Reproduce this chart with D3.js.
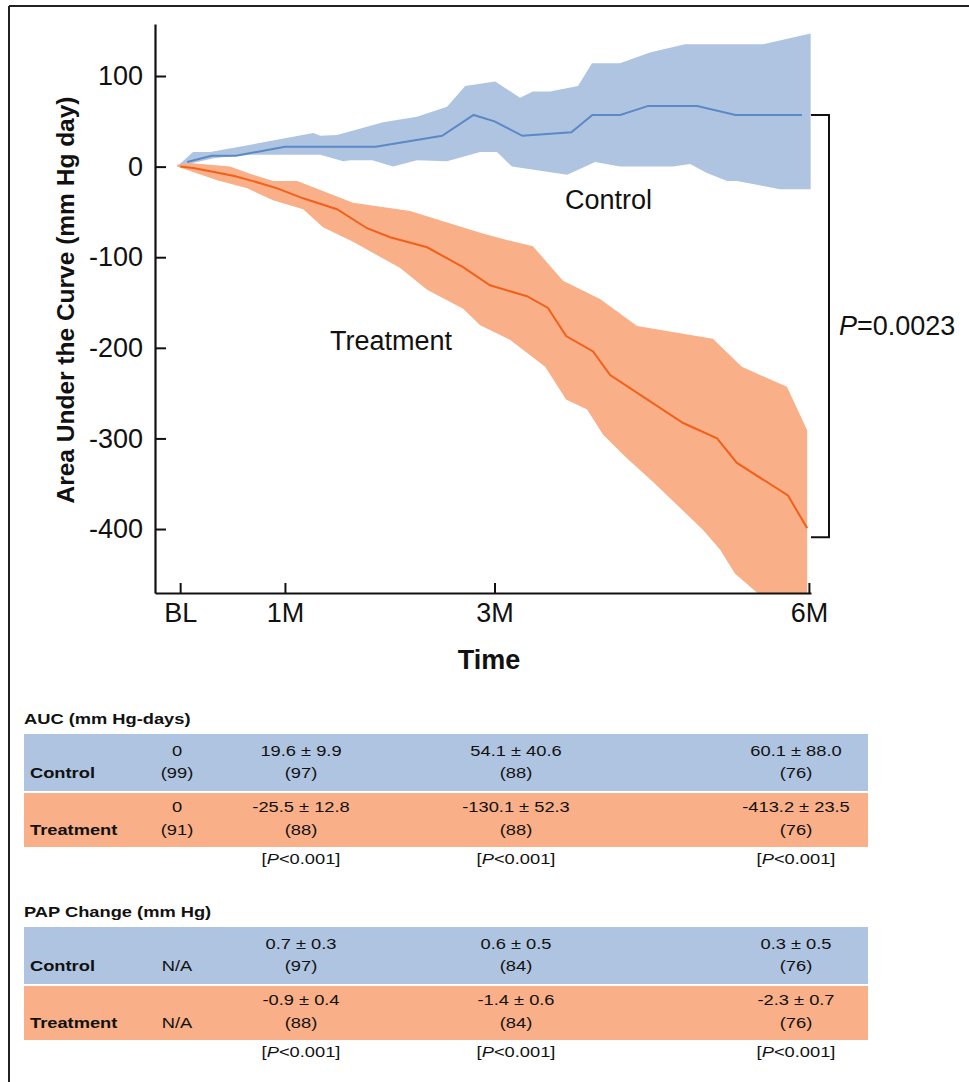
<!DOCTYPE html>
<html>
<head>
<meta charset="utf-8">
<script src="https://cdn.jsdelivr.net/npm/d3@7"></script>
<style>
  body { margin: 0; background: #fff; }
  svg text { font-family: "Liberation Sans", Arial, sans-serif; fill: #111; }
</style>
</head>
<body>
<svg id="chart" width="969" height="1082"></svg>
<script>
// AUC curves (days since baseline, mm Hg day)
let ctrlDays = [2, 9, 16, 30, 56, 75, 84, 90, 98, 112, 118, 126, 134, 148, 159, 178];
let ctrlMean = [5, 12, 12, 22, 22, 34, 57, 50, 34, 38, 57, 57, 67, 67, 57, 57];

let ctrlUpDays = [-0.9, 3.7, 8.6, 38.1, 40.1, 44.9, 58.1, 67.8, 76.4, 81.6, 90.2, 97.3, 101, 105.9, 113.9, 117.9, 125.9, 134.5, 144.5, 166.9, 180.5];
let ctrlUpVals = [0, 16, 16, 37, 34, 35, 49, 55, 66, 89, 94, 76, 83, 83, 89, 114, 114, 126, 135, 135, 147];
let ctrlLoDays = [-0.9, 10, 20, 40.1, 46.7, 48.7, 55, 61, 67.8, 76.4, 85.9, 90.7, 95, 110.8, 118.8, 125.9, 141.1, 146, 150.8, 156.6, 159.4, 165.1, 171.7, 180.5];
let ctrlLoVals = [0, 9.5, 13, 13, 6, 7, 7, 0, 7, 6, 16, 16, 0, -9, 5, 0, 0, 3, -7, -16, -16, -20, -25, -25];

let trtDays = [0, 3.7, 8.6, 15.2, 20.9, 27.8, 35.2, 44.9, 53.5, 60.1, 70.7, 81, 88.7, 99.3, 105.3, 110.5, 118.2, 123.1, 144, 153.7, 159.4, 174, 179.5];
let trtMean = [0, -1.5, -5, -10, -16, -24, -35, -47, -68, -78, -89, -111, -131, -143, -156, -187, -204, -230, -283, -300, -327, -363, -399];

let trtUpDays = [-0.9, 2.9, 14.3, 20, 26.6, 33.5, 49.5, 65.8, 85.9, 92.4, 101, 109.6, 120.2, 130.8, 152.5, 160.8, 173.7, 179.5, 179.5];
let trtUpVals = [2, 4, 0, -8, -16, -16, -40, -49, -73, -80, -88, -126, -146, -176, -190, -221, -243, -291, -540];
let trtLoDays = [-0.9, 10.6, 19.2, 26.6, 35.2, 40.9, 49.5, 63, 70.7, 81, 85.9, 94.4, 104.5, 110.5, 116.5, 121.1, 127.9, 135.4, 149.7, 154.6, 158.8, 165.1, 179.5];
let trtLoVals = [0, -15, -24, -37, -47, -67, -83, -112, -136, -157, -175, -191, -221, -257, -268, -296, -322, -348, -401, -423, -449, -470, -530];

let yTicks = [100, 0, -100, -200, -300, -400];
let xTickDays = [0, 30, 90, 180];
let xTickLabels = ["BL", "1M", "3M", "6M"];
let bracketVals = [57, -409];

// tables
let aucCtrlTop = ["0", "19.6 ± 9.9", "54.1 ± 40.6", "60.1 ± 88.0"];
let aucCtrlN = ["(99)", "(97)", "(88)", "(76)"];
let aucTrtTop = ["0", "-25.5 ± 12.8", "-130.1 ± 52.3", "-413.2 ± 23.5"];
let aucTrtN = ["(91)", "(88)", "(88)", "(76)"];
let aucP = ["", "<0.001", "<0.001", "<0.001"];

let papCtrlTop = ["", "0.7 ± 0.3", "0.6 ± 0.5", "0.3 ± 0.5"];
let papCtrlN = ["N/A", "(97)", "(84)", "(76)"];
let papTrtTop = ["", "-0.9 ± 0.4", "-1.4 ± 0.6", "-2.3 ± 0.7"];
let papTrtN = ["N/A", "(88)", "(84)", "(76)"];
let papP = ["", "<0.001", "<0.001", "<0.001"];

let blueBand = "#afc4e0", blueLine = "#5b88c6";
let orangeBand = "#f9af87", orangeLine = "#f2601a";

let svg = d3.select("#chart");

// frame
svg.append("line").attr("x1", 9).attr("y1", 6).attr("x2", 969).attr("y2", 6)
    .attr("stroke", "#222").attr("stroke-width", 2);
svg.append("line").attr("x1", 9).attr("y1", 6).attr("x2", 9).attr("y2", 1082)
    .attr("stroke", "#222").attr("stroke-width", 2);

let x = d3.scaleLinear().domain([-7.2, 180.6]).range([155, 811]);
let y = d3.scaleLinear().domain([-470.6, 157.4]).range([593, 24]);

svg.append("clipPath").attr("id", "plotclip")
  .append("rect").attr("x", 155).attr("y", 24).attr("width", 656).attr("height", 569);

let line = d3.line().x(d => x(d[0])).y(d => y(d[1]));
let zip = (a, b) => a.map((v, i) => [v, b[i]]);

function band(upD, upV, loD, loV) {
    let pts = zip(upD, upV).concat(zip(loD, loV).reverse());
    return line(pts) + "Z";
}

let plot = svg.append("g").attr("clip-path", "url(#plotclip)");
plot.append("path").attr("d", band(ctrlUpDays, ctrlUpVals, ctrlLoDays, ctrlLoVals)).attr("fill", blueBand);
plot.append("path").attr("d", band(trtUpDays, trtUpVals, trtLoDays, trtLoVals)).attr("fill", orangeBand);
plot.append("path").attr("d", line(zip(ctrlDays, ctrlMean))).attr("fill", "none")
    .attr("stroke", blueLine).attr("stroke-width", 2);
plot.append("path").attr("d", line(zip(trtDays, trtMean))).attr("fill", "none")
    .attr("stroke", orangeLine).attr("stroke-width", 2);

// axes
let yAxis = svg.append("g").attr("transform", "translate(155,0)")
    .call(d3.axisLeft(y).tickValues(yTicks).tickFormat(d => String(d))
        .tickSize(-11).tickSizeOuter(0).tickPadding(12));
let xAxis = svg.append("g").attr("transform", "translate(0,593)")
    .call(d3.axisBottom(x).tickValues(xTickDays).tickFormat((d, i) => xTickLabels[i])
        .tickSize(-10).tickSizeOuter(0).tickPadding(10));
[yAxis, xAxis].forEach(function(ax) {
    ax.select(".domain").attr("stroke", "#111").attr("stroke-width", 2.2);
    ax.selectAll(".tick line").attr("stroke", "#111").attr("stroke-width", 2);
    ax.selectAll(".tick text").attr("font-size", 27).attr("font-family", "Liberation Sans, Arial, sans-serif").attr("fill", "#111");
});

svg.append("text").attr("transform", "translate(74,300) rotate(-90)")
    .attr("text-anchor", "middle").attr("font-size", 24.5).attr("font-weight", "bold")
    .text("Area Under the Curve (mm Hg day)");
svg.append("text").attr("x", 489).attr("y", 669).attr("text-anchor", "middle")
    .attr("font-size", 27).attr("font-weight", "bold").text("Time");

svg.append("text").attr("x", 565).attr("y", 209).attr("font-size", 27).text("Control");
svg.append("text").attr("x", 330).attr("y", 350).attr("font-size", 27).text("Treatment");

// significance bracket
let bx = x(180.6), bx2 = bx + 18;
svg.append("path")
    .attr("d", `M${bx},${y(bracketVals[0])}H${bx2}V${y(bracketVals[1])}H${bx}`)
    .attr("fill", "none").attr("stroke", "#111").attr("stroke-width", 2);
let pt = svg.append("text").attr("x", 839).attr("y", 335).attr("font-size", 27);
pt.append("tspan").attr("font-style", "italic").text("P");
pt.append("tspan").text("=0.0023");

// tables
let colX = [177, 301, 516, 796];
let sx = 1.18;

function cell(g, tx, ty, txt, opts) {
    opts = opts || {};
    let t = g.append("g").attr("transform", `translate(${tx},${ty}) scale(${sx},1)`)
      .append("text").attr("font-size", 15.5)
      .attr("text-anchor", opts.anchor || "middle")
      .attr("font-weight", opts.bold ? "bold" : "normal");
    return t.text(txt);
}

function drawTable(top, title, cTop, cN, tTop, tN, pv) {
    let g = svg.append("g");
    cell(g, 24, top - 10, title, {anchor: "start", bold: true});
    g.append("rect").attr("x", 24).attr("y", top).attr("width", 844).attr("height", 57).attr("fill", blueBand);
    g.append("rect").attr("x", 24).attr("y", top + 59).attr("width", 844).attr("height", 54).attr("fill", orangeBand);
    cell(g, 30, top + 44, "Control", {anchor: "start", bold: true});
    cell(g, 30, top + 101, "Treatment", {anchor: "start", bold: true});
    colX.forEach(function(cx, i) {
        cell(g, cx, top + 22, cTop[i]);
        cell(g, cx, top + 44, cN[i]);
        cell(g, cx, top + 78, tTop[i]);
        cell(g, cx, top + 101, tN[i]);
        if (pv[i]) {
            let t = cell(g, cx, top + 130, "");
            t.append("tspan").text("[");
            t.append("tspan").attr("font-style", "italic").text("P");
            t.append("tspan").text(pv[i] + "]");
        }
    });
}

drawTable(734, "AUC (mm Hg-days)", aucCtrlTop, aucCtrlN, aucTrtTop, aucTrtN, aucP);
drawTable(927, "PAP Change (mm Hg)", papCtrlTop, papCtrlN, papTrtTop, papTrtN, papP);
</script>
</body>
</html>
